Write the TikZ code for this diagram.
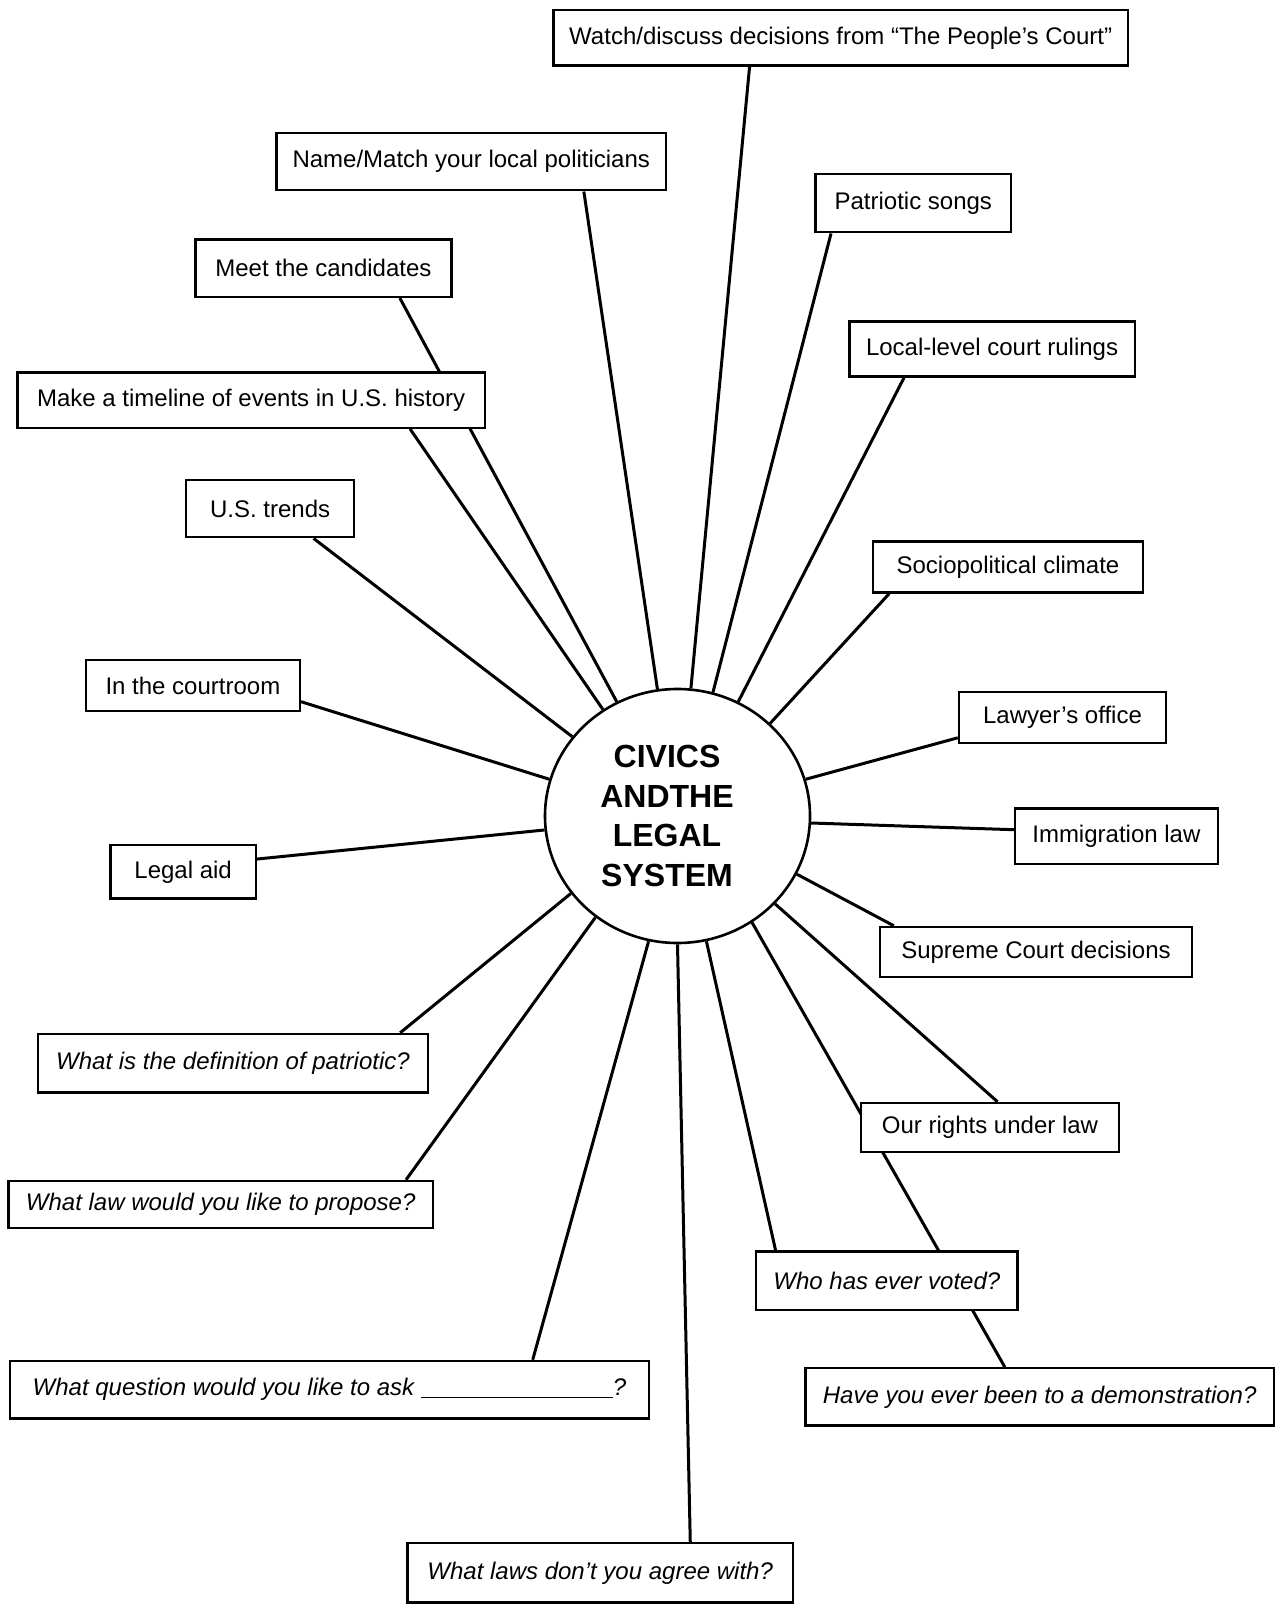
\documentclass[tikz,border=0pt]{standalone}
\usepackage{fontspec}
\setmainfont{Liberation Sans}
\usetikzlibrary{shapes.geometric,calc,backgrounds}

\begin{document}
\begin{tikzpicture}[x=0.5pt,y=-0.5pt,
  box/.style={draw, line width=1.2pt, fill=white, inner sep=0pt, align=center,
              font=\fontsize{12}{14}\selectfont},
  qbox/.style={box, font=\fontsize{12}{14}\selectfont\itshape},
  link/.style={line width=1.5pt},
  ]
\useasboundingbox (0,0) rectangle (1276,1605);

% central topic
\node[draw, ellipse, line width=1.3pt, fill=white, inner sep=0pt,
      minimum width=132.5pt, minimum height=127pt] (hub) at (677.5,816) {};
\node[font=\fontsize{16}{19.7}\selectfont\bfseries, align=center, inner sep=0pt]
      (hubtext) at (667,816) {CIVICS\\ANDTHE\\LEGAL\\SYSTEM};

% activity boxes
\node[box, minimum width=287.05pt, minimum height=27.65pt] (watch)  at (840.65,37.85) {Watch/discuss decisions from “The People’s Court”};
\node[box, minimum width=194.95pt, minimum height=28.65pt] (names)  at (471.25,161.65) {Name/Match your local politicians};
\node[box, minimum width=97.7pt,   minimum height=29.15pt] (songs)  at (913.3,203.15) {Patriotic songs};
\node[box, minimum width=127.9pt,  minimum height=28.65pt] (meet)   at (323.4,268.15) {Meet the candidates};
\node[box, minimum width=142.75pt, minimum height=27.65pt] (local)  at (992.05,348.95) {Local-level court rulings};
\node[box, minimum width=233.8pt,  minimum height=27.6pt]  (tline)  at (251.2,400.1) {Make a timeline of events in U.S. history};
\node[box, minimum width=83.95pt,  minimum height=28.65pt] (trends) at (270.15,508.55) {U.S. trends};
\node[box, minimum width=135.05pt, minimum height=25.6pt]  (socio)  at (1007.95,566.9) {Sociopolitical climate};
\node[box, minimum width=106.9pt,  minimum height=25.6pt]  (court)  at (192.9,685.6) {In the courtroom};
\node[box, minimum width=103.5pt,  minimum height=25.5pt]  (lawyer) at (1062.5,717.5) {Lawyer’s office};
\node[box, minimum width=101.35pt, minimum height=27.65pt] (immig)  at (1116.35,836.05) {Immigration law};
\node[box, minimum width=72.65pt,  minimum height=26.65pt] (aid)    at (183.15,871.85) {Legal aid};
\node[box, minimum width=156pt,    minimum height=25pt]    (supreme) at (1036,952) {Supreme Court decisions};
\node[box, minimum width=129pt,    minimum height=24.6pt]  (rights) at (990,1127.6) {Our rights under law};

% question boxes
\node[qbox, minimum width=195pt,    minimum height=29.25pt] (patq)   at (233,1063.25) {What is the definition of patriotic?};
\node[qbox, minimum width=212.25pt, minimum height=23.5pt]  (propose) at (220.75,1204.5) {What law would you like to propose?};
\node[qbox, minimum width=130.65pt, minimum height=29.15pt] (voted)  at (886.85,1280.65) {Who has ever voted?};
\node[qbox, minimum width=319.3pt,  minimum height=28.65pt] (ask)    at (329.5,1389.65) {What question would you like to ask \rule[-1pt]{96pt}{0.6pt}?};
\node[qbox, minimum width=234.35pt, minimum height=28.65pt] (demo)   at (1039.65,1396.85) {Have you ever been to a demonstration?};
\node[qbox, minimum width=192.9pt,  minimum height=29.7pt]  (disagree) at (600.2,1572.8) {What laws don’t you agree with?};

% spokes, drawn beneath the boxes
\begin{pgfonlayer}{background}
\fill[white] (0,0) rectangle (1276,1605);
\draw[link] (hub.84.4)  -- ($(watch.south west)!0.342!(watch.south east)$);
\draw[link] (hub.99.3)  -- ($(names.south west)!0.787!(names.south east)$);
\draw[link] (hub.74.8)  -- ($(songs.south west)!0.084!(songs.south east)$);
\draw[link] (hub.62.2)  -- ($(local.south west)!0.194!(local.south east)$);
\draw[link] (hub.45.5)  -- ($(socio.south west)!0.064!(socio.south east)$);
\draw[link] (hub.118.2) -- ($(meet.south west)!0.796!(meet.south east)$);
\draw[link] (hub.125.1) -- ($(tline.south west)!0.838!(tline.south east)$);
\draw[link] (hub.143.5) -- ($(trends.south west)!0.755!(trends.south east)$);
\draw[link] (hub.164.6) -- ($(court.north east)!0.8!(court.south east)$);
\draw[link] (hub.186.9) -- ($(aid.north east)!0.27!(aid.south east)$);
\draw[link] (hub.216.8) -- ($(patq.north west)!0.926!(patq.north east)$);
\draw[link] (hub.231.7) -- ($(propose.north west)!0.934!(propose.north east)$);
\draw[link] (hub.257.5) -- ($(ask.north west)!0.817!(ask.north east)$);
\draw[link] (hub.270.7) -- ($(disagree.north west)!0.732!(disagree.north east)$);
\draw[link] (hub.283.2) -- ($(voted.north west)!0.078!(voted.north east)$);
\draw[link] (hub.305.2) -- ($(demo.north west)!0.426!(demo.north east)$);
\draw[link] (hub.318.6) -- ($(rights.north west)!0.529!(rights.north east)$);
\draw[link] (hub.334.5) -- ($(supreme.north west)!0.048!(supreme.north east)$);
\draw[link] (hub.357.4) -- ($(immig.north west)!0.39!(immig.south west)$);
\draw[link] (hub.16.7)  -- ($(lawyer.north west)!0.88!(lawyer.south west)$);
\end{pgfonlayer}
\end{tikzpicture}
\end{document}
